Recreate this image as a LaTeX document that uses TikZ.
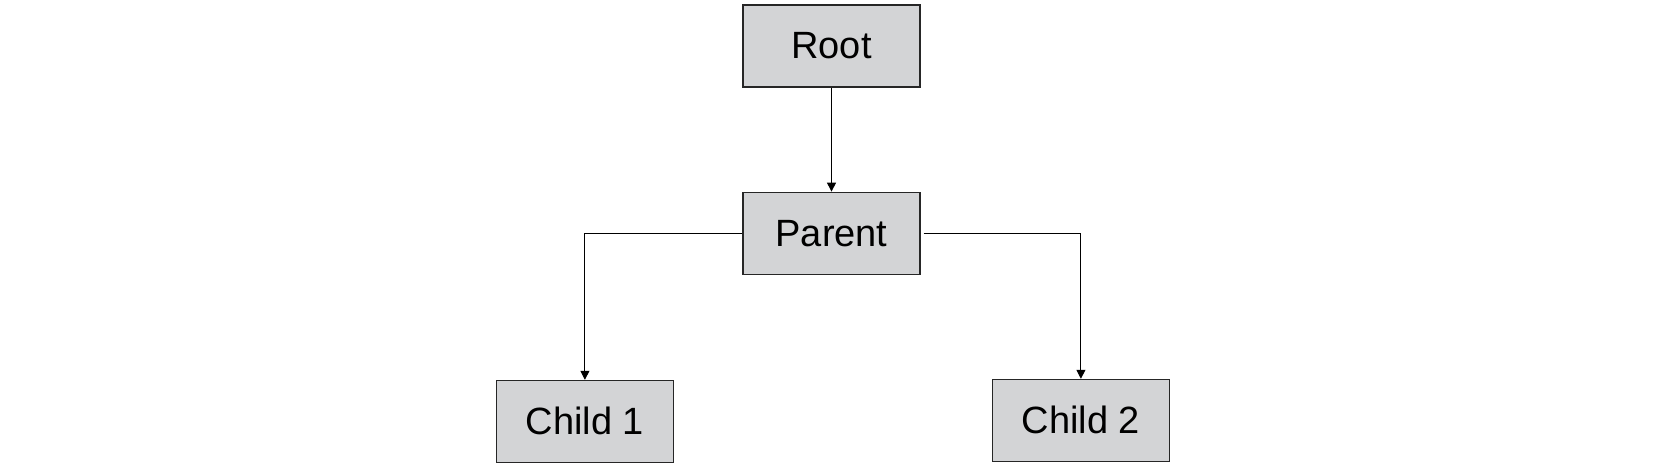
\documentclass[tikz,border=0pt]{standalone}
\usepackage{fontspec}
\setmainfont{Liberation Sans}
\usetikzlibrary{positioning,arrows.meta}
\definecolor{boxgray}{RGB}{211,212,214}
\tikzset{
  treebox/.style={draw=black!85,fill=boxgray,line width=0.6pt,minimum width=88.5pt,minimum height=41pt,inner sep=0pt,font=\fontsize{19}{23}\selectfont},
  link/.style={-{Triangle[length=4.5pt,width=4.5pt]},line width=0.5pt},
  node distance=52pt
}
\begin{document}
\begin{tikzpicture}
    \useasboundingbox (0,0) rectangle (832.5pt,-234pt);
    \node[treebox] (root) at (415.75pt,-23pt) {Root};
    \node[treebox] (parent) [below=of root] {Parent};
    \node[treebox] (child1) [below=52.5pt of parent,xshift=-123.3pt] {Child 1};
    \node[treebox] (child2) [below=52pt of parent,xshift=124.7pt] {Child 2};
    \draw[link] (root) -- (parent);
    \draw[link] (parent.west) -| (child1.north);
    \draw[link,shorten <=1.5pt] (parent.east) -| (child2.north);
\end{tikzpicture}
\end{document}
